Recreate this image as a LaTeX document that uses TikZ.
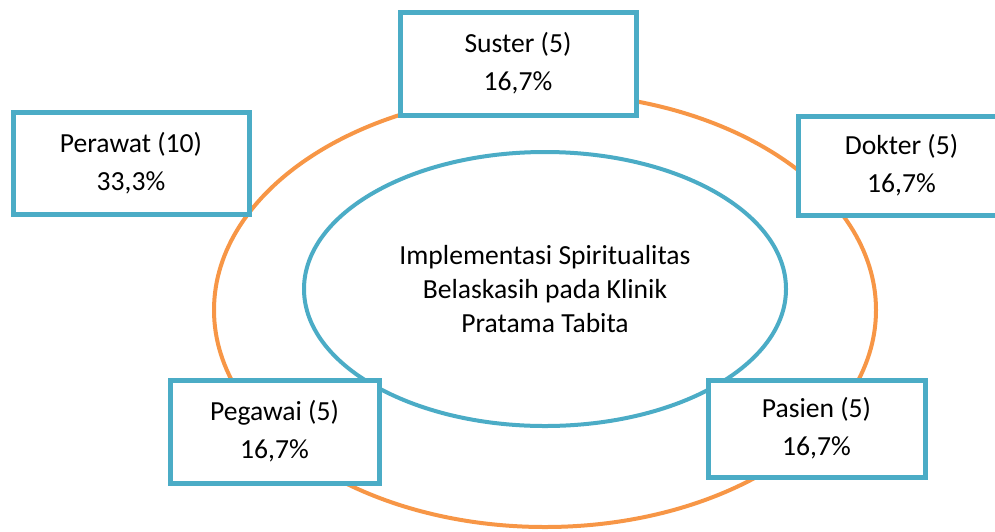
\documentclass[tikz,border=0pt]{standalone}
\usepackage{fontspec}
\setmainfont{Carlito}
\usepackage{tikz}
\usetikzlibrary{shapes.geometric}
\definecolor{ringorange}{HTML}{F79646}
\definecolor{boxblue}{HTML}{4BACC6}

\begin{document}
\begin{tikzpicture}[x=0.5pt, y=-0.5pt, semithick,
    group/.style={draw=boxblue, line width=2.5pt, fill=white, inner sep=0pt,
      align=center, font=\fontsize{13.8}{19}\selectfont},
    core/.style={ellipse, draw=boxblue, line width=2pt, fill=white, inner sep=0pt,
      minimum width=241pt, minimum height=137pt,
      align=center, font=\fontsize{13.8}{17}\selectfont}]
    \useasboundingbox (0,0) rectangle (995,531);
    \draw [ringorange, line width=2pt] (545,310) ellipse [x radius=165.5pt, y radius=108.5pt];
    \node [core] (pusat) at (545,289) {Implementasi Spiritualitas\\Belaskasih pada Klinik\\Pratama Tabita};
    \node [group, minimum width=118pt, minimum height=51.5pt] (suster) at (518,63.5) {Suster (5)\\16,7\%};
    \node [group, minimum width=118pt, minimum height=51pt] (perawat) at (131,163) {Perawat (10)\\33,3\%};
    \node [group, minimum width=103.5pt, minimum height=49.5pt] (dokter) at (901.5,165.5) {Dokter (5)\\16,7\%};
    \node [group, minimum width=104.5pt, minimum height=51.5pt] (pegawai) at (274.5,431.5) {Pegawai (5)\\16,7\%};
    \node [group, minimum width=108.5pt, minimum height=48.5pt] (pasien) at (816.5,428.5) {Pasien (5)\\16,7\%};
  \end{tikzpicture}
\end{document}
